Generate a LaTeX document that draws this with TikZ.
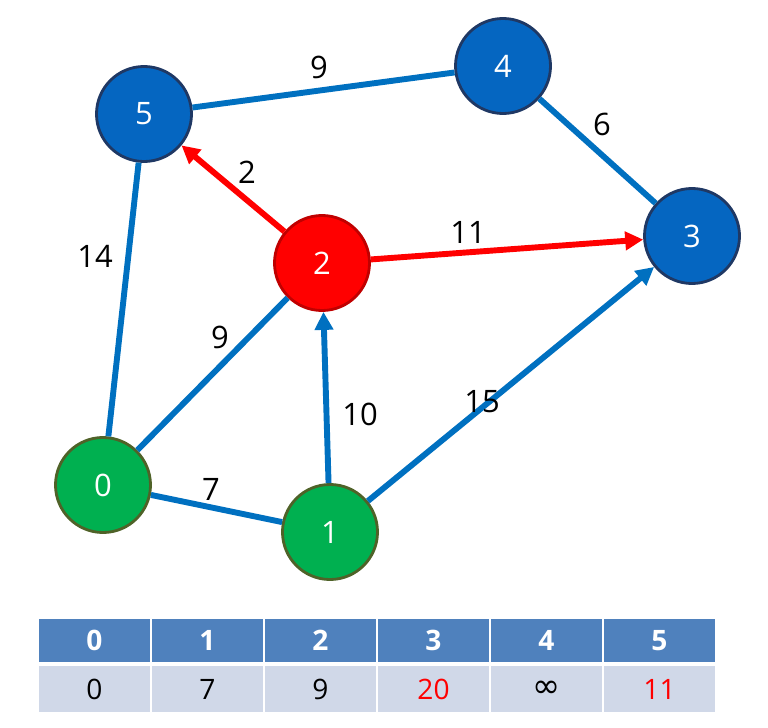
\documentclass[tikz,border=0pt]{standalone}
\usepackage{fontspec}
\setmainfont{Open Sans}
\newfontfamily\signfont{DejaVu Sans}
\usetikzlibrary{arrows.meta}
\definecolor{vblue}{HTML}{0566C1}
\definecolor{vnavy}{HTML}{1F3864}
\definecolor{eblue}{HTML}{0070C0}
\definecolor{vred}{HTML}{FF0000}
\definecolor{vredline}{HTML}{C00000}
\definecolor{vgreen}{HTML}{00B050}
\definecolor{volive}{HTML}{4F6228}
\definecolor{headblue}{HTML}{4F81BD}
\definecolor{rowgray}{HTML}{D0D8E8}
\begin{document}
\begin{tikzpicture}[x=0.025cm, y=-0.025cm, font=\fontsize{22}{26}\selectfont,
	line join=round, >={Triangle[length=4.5mm, width=4.5mm]},
	vtx/.style={circle, line width=2pt, minimum size=2.375cm, inner sep=0pt, text=white},
	bluev/.style={vtx, fill=vblue, draw=vnavy},
	redv/.style={vtx, fill=vred, draw=vredline},
	greenv/.style={vtx, fill=vgreen, draw=volive},
	bline/.style={line width=4.2pt, draw=eblue},
	rline/.style={line width=4.2pt, draw=vred},
	cell/.style={rectangle, draw=white, line width=1.4pt, minimum width=2.825cm, inner sep=0pt,
		font=\fontsize{20}{24}\selectfont},
	headcell/.style={cell, fill=headblue, minimum height=1.125cm, text=white, font=\fontsize{20}{24}\selectfont\bfseries},
	rowcell/.style={cell, fill=rowgray, minimum height=1.2cm}]
	\useasboundingbox (0,0) rectangle (768,728);
	\path
	(103,485) coordinate (P0)
	(330,532) coordinate (P1)
	(322,263) coordinate (P2)
	(692,236) coordinate (P3)
	(503,66) coordinate (P4)
	(144,114) coordinate (P5)
	;
	\foreach \p/\s in {0/greenv,1/greenv,2/redv,3/bluev,4/bluev,5/bluev}
	\node[\s] (v\p) at (P\p) {\p};
	\foreach \a/\b in {5/4,4/3,5/0,0/2,0/1}
	\draw[bline] (v\a) -- (v\b);
	\foreach \a/\b in {1/2,1/3}
	\draw[bline,->] (v\a) -- (v\b);
	\foreach \a/\b in {2/5,2/3}
	\draw[rline,->] (v\a) -- (v\b);
	\foreach \n/\x/\y/\w in {54/319/67/9,43/602/124/6,25/247/172/2,23/468/232/11,
		50/95/256/14,02/220/337/9,12/360/414/10,13/482/402/15,01/211/489/7}
	\node (w\n) at (\x,\y) {\w};
	% table of distances
	\foreach \i/\d/\c in {0/0/black,1/7/black,2/9/black,3/20/vred,4/{\signfont\fontsize{24}{26}\selectfont ∞}/black,5/11/vred}
	{
		\node[headcell] (h\i) at ({94.5+113*\i},640.5) {\i};
		\node[rowcell, text=\c] (d\i) at ({94.5+113*\i},689) {\d};
	}
\end{tikzpicture}
\end{document}
